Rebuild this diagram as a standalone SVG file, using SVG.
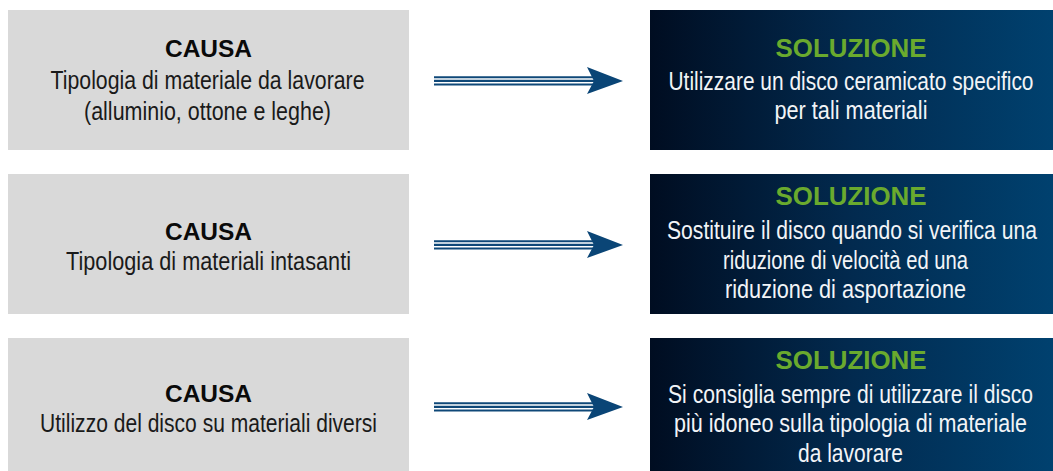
<svg xmlns="http://www.w3.org/2000/svg" width="1053" height="471" viewBox="0 0 1053 471">
<style>
.cause{fill:#d9d9d9}
.sol{fill:url(#g)}
text{font-family:"Liberation Sans",Arial,sans-serif;text-anchor:middle}
.h{font-weight:bold;font-size:24.5px;fill:#0a0a0a}
.hs{font-weight:bold;font-size:25px;fill:#6aaa2e}
.b,.w{font-size:20px}
.b{fill:#1a1a1a}
.w{fill:#f2f4f7}
.ln{stroke:#0f4878;stroke-width:2.1;fill:none}
.ah{fill:#0a4576}
</style>
<defs>
<linearGradient id="g" x1="0" y1="0" x2="1" y2="0">
<stop offset="0" stop-color="#000d21"/>
<stop offset="0.5" stop-color="#022a4f"/>
<stop offset="1" stop-color="#00416f"/>
</linearGradient>
<g id="arrow">
<line class="ln" x1="434" y1="-3.8" x2="593" y2="-3.8"/>
<line class="ln" x1="434" y1="-0.1" x2="595" y2="-0.1"/>
<line class="ln" x1="434" y1="3.5" x2="593" y2="3.5"/>
<path class="ah" d="M587,-14 L623,0 L587,13 L594,0 Z"/>
</g>
</defs>
<rect width="1053" height="471" fill="#ffffff"/>
<g id="cause1">
<rect class="cause" x="8" y="10" width="401" height="140"/>
<text class="h" x="208.5" y="57">CAUSA</text>
<text class="b" transform="translate(207.5,89) scale(1,1.3)" textLength="314" lengthAdjust="spacingAndGlyphs">Tipologia di materiale da lavorare</text>
<text class="b" transform="translate(207.5,120) scale(1,1.3)" textLength="247" lengthAdjust="spacingAndGlyphs">(alluminio, ottone e leghe)</text>
</g>
<g id="cause2">
<rect class="cause" x="8" y="174" width="401" height="140"/>
<text class="h" x="208.5" y="240">CAUSA</text>
<text class="b" transform="translate(208.5,270) scale(1,1.3)" textLength="285" lengthAdjust="spacingAndGlyphs">Tipologia di materiali intasanti</text>
</g>
<g id="cause3">
<rect class="cause" x="8" y="338" width="401" height="133"/>
<text class="h" x="208.5" y="402">CAUSA</text>
<text class="b" transform="translate(208.5,432) scale(1,1.3)" textLength="337" lengthAdjust="spacingAndGlyphs">Utilizzo del disco su materiali diversi</text>
</g>
<g id="sol1">
<rect class="sol" x="650" y="10" width="403" height="140"/>
<text class="hs" x="851" y="57" textLength="151" lengthAdjust="spacingAndGlyphs">SOLUZIONE</text>
<text class="w" transform="translate(851,89.5) scale(1,1.3)" textLength="365" lengthAdjust="spacingAndGlyphs">Utilizzare un disco ceramicato specifico</text>
<text class="w" transform="translate(851,119) scale(1,1.3)" textLength="153" lengthAdjust="spacingAndGlyphs">per tali materiali</text>
</g>
<g id="sol2">
<rect class="sol" x="650" y="174" width="403" height="140"/>
<text class="hs" x="851" y="205" textLength="151" lengthAdjust="spacingAndGlyphs">SOLUZIONE</text>
<text class="w" transform="translate(852,239) scale(1,1.3)" textLength="370" lengthAdjust="spacingAndGlyphs">Sostituire il disco quando si verifica una</text>
<text class="w" transform="translate(845.5,269) scale(1,1.3)" textLength="245" lengthAdjust="spacingAndGlyphs">riduzione di velocità ed una</text>
<text class="w" transform="translate(845.5,298) scale(1,1.3)" textLength="241" lengthAdjust="spacingAndGlyphs">riduzione di asportazione</text>
</g>
<g id="sol3">
<rect class="sol" x="650" y="338" width="403" height="133"/>
<text class="hs" x="851" y="369" textLength="151" lengthAdjust="spacingAndGlyphs">SOLUZIONE</text>
<text class="w" transform="translate(850.5,403) scale(1,1.3)" textLength="365" lengthAdjust="spacingAndGlyphs">Si consiglia sempre di utilizzare il disco</text>
<text class="w" transform="translate(850.5,432) scale(1,1.3)" textLength="353" lengthAdjust="spacingAndGlyphs">più idoneo sulla tipologia di materiale</text>
<text class="w" transform="translate(850.5,462) scale(1,1.3)" textLength="105" lengthAdjust="spacingAndGlyphs">da lavorare</text>
</g>
<g id="connectors">
<use href="#arrow" transform="translate(0,81)"/>
<use href="#arrow" transform="translate(0,245)"/>
<use href="#arrow" transform="translate(0,407)"/>
</g>
</svg>
